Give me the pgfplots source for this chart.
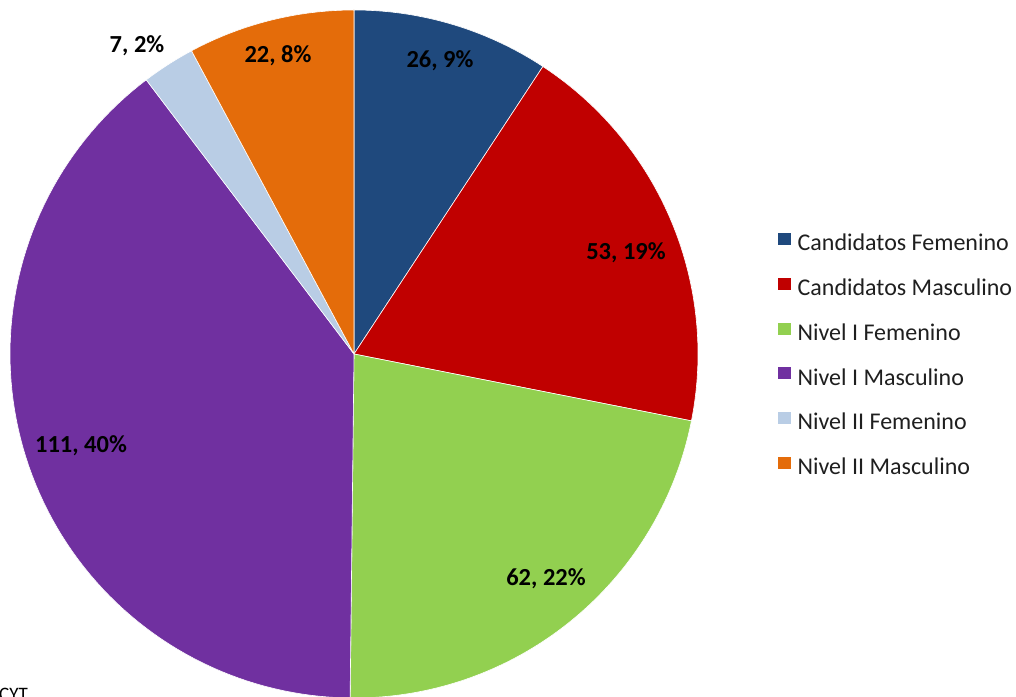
\documentclass[border=0pt]{standalone}
\usepackage{pgfplots}
\usepackage{pgfplotstable}
\pgfplotsset{compat=1.18}
\usepackage{fontspec}
\setmainfont{Carlito}
\definecolor{cS0}{HTML}{1F497D}
\definecolor{cS1}{HTML}{C00000}
\definecolor{cS2}{HTML}{92D050}
\definecolor{cS3}{HTML}{7030A0}
\definecolor{cS4}{HTML}{B9CDE5}
\definecolor{cS5}{HTML}{E46C0A}

\pgfplotstableread{
idx value
0 26
1 53
2 62
3 111
4 7
5 22
}\piedata

\newcommand\pieslice[3]{%
  \pgfplotstablegetelem{#1}{value}\of\piedata
  \pgfmathsetmacro\aS{90-(\cum/\total)*360}%
  \pgfmathsetmacro\cum{\cum+\pgfplotsretval}%
  \pgfmathsetmacro\aE{90-(\cum/\total)*360}%
  \addplot[fill=#2, draw=white, line width=0.6pt, domain=\aE:\aS, samples=90, variable=\t]
    ({354+344*cos(\t)}, {342+344*sin(\t)}) -- (axis cs:354,342) -- cycle;
  \addlegendentry{#3}
}

\begin{document}
\begin{tikzpicture}
\def\total{0}
\pgfplotsforeachungrouped \i in {0,...,5}{%
  \pgfplotstablegetelem{\i}{value}\of\piedata
  \pgfmathsetmacro\total{\total+\pgfplotsretval}%
}
\def\cum{0}
\useasboundingbox (0,0) rectangle (1016pt,696pt);
\clip (0,0) rectangle (1016pt,696pt);
\begin{axis}[
  at={(0,0)}, anchor=origin,
  scale only axis, width=1016pt, height=696pt,
  xmin=0, xmax=1016, ymin=0, ymax=696,
  hide axis, clip=false,
  legend style={at={(axis cs:777,464)}, anchor=north west, draw=none, fill=none,
    inner sep=0pt, outer sep=0pt, row sep=21pt, column sep=6pt,
    font=\fontsize{24}{28}\selectfont, text=black!88,
    nodes={inner sep=0pt, text height=16pt, text depth=5pt}},
  legend cell align=left,
  legend image code/.code={\fill[#1] (0pt,0pt) rectangle (14pt,13pt);},
]
\pieslice{0}{cS0}{Candidatos Femenino}
\pieslice{1}{cS1}{Candidatos Masculino}
\pieslice{2}{cS2}{Nivel I Femenino}
\pieslice{3}{cS3}{Nivel I Masculino}
\pieslice{4}{cS4}{Nivel II Femenino}
\pieslice{5}{cS5}{Nivel II Masculino}

\begin{scope}[every node/.style={anchor=base, inner sep=0pt, font=\bfseries\fontsize{24.5}{28}\selectfont}]
\node at (axis cs:440,628) {26, 9\%};
\node at (axis cs:626,436) {53, 19\%};
\node at (axis cs:546,111) {62, 22\%};
\node at (axis cs:81,243) {111, 40\%};
\node at (axis cs:137,643) {7, 2\%};
\node at (axis cs:278,633) {22, 8\%};
\end{scope}
\node[anchor=north west, inner sep=0pt, font=\fontsize{19}{23}\selectfont] at (axis cs:-1,8) {CYT};
\end{axis}
\end{tikzpicture}
\end{document}
